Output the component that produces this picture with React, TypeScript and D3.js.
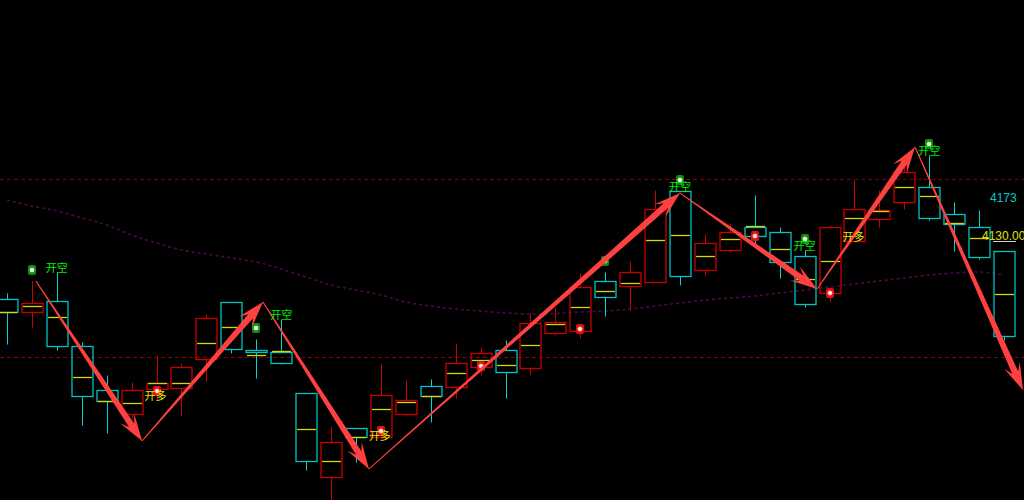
import React from "react";
import * as d3 from "d3";

// ---- data (prices) ----
const opens = [4070, 4057, 4068, 4023, 3979, 3955, 3980, 3981, 4010, 4067, 4019, 4017, 3976, 3892, 3941, 3932, 3955, 3983, 3982, 4002, 4019, 4001, 4036, 4038, 4088, 4083, 4087, 4178, 4099, 4119, 4142, 4137, 4113, 4076, 4128, 4150, 4167, 4182, 4155, 4142, 4118];
const highs = [4076, 4088, 4097, 4027, 3994, 3987, 4014, 4006, 4055, 4067, 4030, 4050, 3976, 3943, 3941, 4005, 3989, 3990, 4026, 4022, 4029, 4056, 4062, 4096, 4097, 4108, 4179, 4178, 4135, 4146, 4174, 4142, 4119, 4144, 4189, 4179, 4206, 4214, 4167, 4159, 4118];
const lows = [4025, 4042, 4019, 3944, 3936, 3951, 3969, 3953, 3988, 4016, 3991, 4005, 3899, 3869, 3907, 3929, 3953, 3947, 3971, 3994, 3971, 3994, 4034, 4031, 4053, 4059, 4087, 4084, 4094, 4117, 4124, 4091, 4062, 4067, 4128, 4142, 4160, 4149, 4118, 4110, 4029];
const closes = [4057, 4066, 4023, 3973, 3968, 3979, 3986, 4002, 4051, 4020, 4017, 4006, 3908, 3927, 3932, 3974, 3969, 3973, 4006, 4016, 3997, 4046, 4047, 4082, 4072, 4097, 4160, 4093, 4126, 4137, 4133, 4107, 4065, 4142, 4160, 4159, 4197, 4151, 4145, 4112, 4033];
const mids = [4057, 4063, 4052, 3992, 3968, 3966, 3986, 3986, 4026, 4042, 4014, 4018, 3940, 3908, 3932, 3960, 3967, 3973, 3996, 4009, 4004, 4024, 4045, 4062, 4078, 4086, 4129, 4134, 4113, 4130, 4143, 4120, 4090, 4108, 4151, 4158, 4182, 4173, 4146, 4131, 4075];
const ma = [4169, 4163, 4158, 4151, 4144, 4134, 4126, 4119, 4115, 4111, 4107, 4100, 4092, 4084, 4079, 4074, 4067, 4063, 4060, 4058, 4056, 4055, 4055.5, 4057, 4058, 4060, 4063, 4066, 4069, 4071, 4073, 4076, 4079, 4082, 4085, 4088, 4091, 4094, 4096, 4097, 4094];

const zigIdx = [1.16, 5.42, 10.27, 14.52, 27.0, 32.5, 36.43, 40.76];
const zigPrice = [4088, 3928, 4067, 3900, 4176, 4080, 4222, 3979];

const shortSignals = [1, 10, 24, 27, 32, 37];
const longSignals = [6, 15, 19, 23, 30, 33];
const shortLabels = [2, 11, 27, 32, 37];
const longLabels = [6, 15, 34];
const refLines = [4190, 4012];
const priceTags = ["4173", "4130.00"];
const priceTagValues = [4173, 4130];

const W = 1024;
const H = 500;

const RED = "#c80000";
const CYAN = "#00c4c4";
const CYAN_WICK = "#00d8d8";
const YEL = "#d8d800";
const ARROW = "#ff4040";

export default function App() {
  const x = d3.scaleLinear().domain([0, 40]).range([7, 1004]);
  const y = d3.scaleLinear().domain([3869, 4369]).range([H, 0]);
  const half = 10.5;

  const maLine = d3
    .line<number>()
    .x((_, i) => x(i))
    .y((d) => y(d))
    .curve(d3.curveMonotoneX)(ma) as string;

  const zig = zigIdx.map((v, i) => [x(v), y(zigPrice[i])] as [number, number]);

  const arrowPath = (s: [number, number], t: [number, number]) => {
    const dx = t[0] - s[0];
    const dy = t[1] - s[1];
    const L = Math.hypot(dx, dy);
    const ux = dx / L, uy = dy / L;
    const nx = -uy, ny = ux;
    const hl = 27, hw = 8.5, sw = 3.2, s0 = 0.4, neck = 19;
    const p = (along: number, side: number): [number, number] => [
      t[0] - ux * along + nx * side,
      t[1] - uy * along + ny * side,
    ];
    const pts: [number, number][] = [
      [s[0] + nx * s0, s[1] + ny * s0],
      p(neck, sw),
      p(hl, hw),
      [t[0], t[1]],
      p(hl, -hw),
      p(neck, -sw),
      [s[0] - nx * s0, s[1] - ny * s0],
    ];
    return (d3.line()(pts) as string) + "Z";
  };

  const marker = (cx: number, cy: number, kind: "g" | "r", key: string) => {
    const base = kind === "g" ? "#138a13" : "#e01010";
    const inner = kind === "g" ? "#9ef09e" : "#ff9a9a";
    return (
      <g key={key}>
        <rect x={cx - 4} y={cy - 5} width={8} height={10} rx={2} fill={base} />
        <rect x={cx - 2} y={cy - 2} width={4} height={4} fill={inner} />
        <rect x={cx - 0.5} y={cy - 2.5} width={1} height={5} fill="#ffffff" />
        <rect x={cx - 2.5} y={cy - 0.5} width={5} height={1} fill="#ffffff" />
      </g>
    );
  };

  return (
    <svg
      width={W}
      height={H}
      style={{ position: "fixed", left: 0, top: 0, background: "#000" }}
    >
      <rect x={0} y={0} width={W} height={H} fill="#000" />
      {refLines.map((v, i) => (
        <line
          key={"ref" + i}
          x1={0}
          x2={W}
          y1={Math.round(y(v)) + 0.5}
          y2={Math.round(y(v)) + 0.5}
          stroke="#8a0000"
          strokeWidth={1}
          strokeDasharray="4,3"
        />
      ))}
      <path
        d={maLine}
        fill="none"
        stroke="#4a0a4a"
        strokeWidth={1.6}
        strokeDasharray="3,3"
      />
      {opens.map((o, i) => {
        const c = closes[i];
        const up = c >= o;
        const col = up ? RED : CYAN;
        const wcol = up ? RED : CYAN_WICK;
        const cx = Math.round(x(i)) + 0.5;
        const top = Math.round(y(Math.max(o, c))) + 0.5;
        const bot = Math.round(y(Math.min(o, c))) + 0.5;
        const hy = Math.round(y(highs[i])) + 0.5;
        const ly = Math.round(y(lows[i])) + 0.5;
        const my = Math.round(y(mids[i])) + 0.5;
        return (
          <g key={"c" + i}>
            {hy < top && (
              <line x1={cx} x2={cx} y1={hy} y2={top} stroke={wcol} strokeWidth={1} />
            )}
            {ly > bot && (
              <line x1={cx} x2={cx} y1={bot} y2={ly} stroke={wcol} strokeWidth={1} />
            )}
            <rect
              x={cx - half}
              y={top}
              width={half * 2}
              height={Math.max(bot - top, 1)}
              fill="none"
              stroke={col}
              strokeWidth={1.3}
            />
            <line
              x1={cx - half + 1}
              x2={cx + half - 1}
              y1={my}
              y2={my}
              stroke={YEL}
              strokeWidth={1.3}
            />
          </g>
        );
      })}
      {shortSignals.map((i) =>
        marker(Math.round(x(i)), Math.round(y(highs[i])) - 11, "g", "sg" + i)
      )}
      {longSignals.map((i) =>
        marker(Math.round(x(i)), Math.round(y(lows[i])) - 9, "r", "lg" + i)
      )}
      {zig.slice(1).map((t, k) => (
        <g key={"a" + k}>
          <line
            x1={zig[k][0]}
            y1={zig[k][1]}
            x2={t[0]}
            y2={t[1]}
            stroke="#c81e1e"
            strokeWidth={1}
          />
          <path d={arrowPath(zig[k], t)} fill={ARROW} />
        </g>
      ))}
      {shortLabels.map((i) => (
        <text
          key={"sl" + i}
          x={x(i) - 11}
          y={y(highs[i]) - 0.5}
          fill="#00ee00"
          fontSize={11}
          fontFamily="'Noto Sans CJK SC', sans-serif"
        >
          开空
        </text>
      ))}
      {longLabels.map((i) => (
        <text
          key={"ll" + i}
          x={x(i) - 12}
          y={y(lows[i]) - 0.5}
          fill="#e6e600"
          fontSize={11}
          fontFamily="'Noto Sans CJK SC', sans-serif"
        >
          开多
        </text>
      ))}
      <text
        x={990}
        y={y(priceTagValues[0]) + 6}
        fill="#00c8c8"
        fontSize={12}
        fontFamily="'Liberation Sans', Arial, sans-serif"
      >
        {priceTags[0]}
      </text>
      <text
        x={982}
        y={y(priceTagValues[1]) + 1}
        fill="#e0e000"
        fontSize={12}
        fontFamily="'Liberation Sans', Arial, sans-serif"
      >
        {priceTags[1]}
      </text>
      <line
        x1={993}
        x2={1016}
        y1={y(priceTagValues[1]) + 2.5}
        y2={y(priceTagValues[1]) + 2.5}
        stroke="#d0d0d0"
        strokeWidth={1}
      />
    </svg>
  );
}
